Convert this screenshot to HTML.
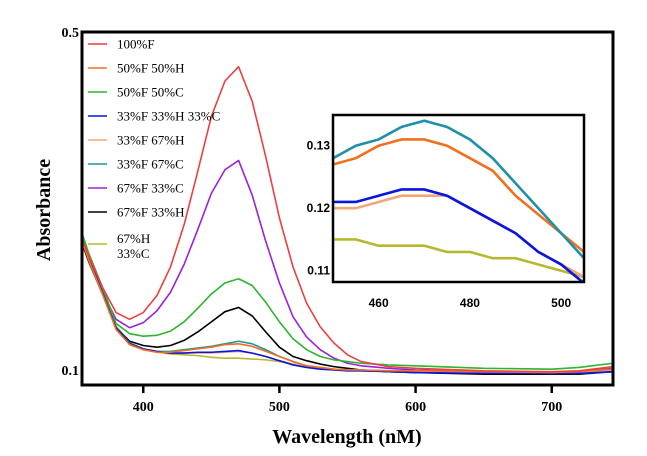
<!DOCTYPE html>
<html><head><meta charset="utf-8"><style>
body{margin:0;background:#fff;}
svg{display:block;}
.ser{font-family:"Liberation Serif",serif;}
</style></head><body>
<svg id="chart" width="647" height="456" viewBox="0 0 647 456" xmlns="http://www.w3.org/2000/svg"></svg>
<script>
const wl=[355,360,370,380,390,400,410,420,430,440,450,460,470,480,490,500,510,520,530,540,550,560,580,600,650,700,720,745];
const red=[.255,.235,.198,.168,.160,.168,.188,.222,.272,.335,.400,.442,.459,.418,.352,.280,.222,.179,.151,.132,.118,.110,.104,.102,.099,.098,.099,.104];
const purple=[.252,.230,.192,.160,.150,.156,.170,.192,.225,.266,.309,.337,.348,.307,.252,.203,.163,.139,.124,.114,.108,.105,.102,.100,.098,.097,.098,.102];
const green=[.262,.238,.198,.155,.143,.140,.141,.146,.157,.173,.190,.203,.208,.200,.180,.157,.137,.124,.116,.112,.110,.108,.106,.105,.102,.101,.103,.108];
const black=[.250,.228,.190,.150,.134,.129,.127,.129,.135,.145,.157,.169,.174,.164,.145,.127,.116,.111,.107,.104,.102,.100,.098,.097,.095,.095,.095,.098];
const teal=[.258,.233,.192,.150,.132,.125,.122,.122,.124,.126,.128,.131,.134,.131,.124,.116,.110,.105,.103,.101,.100,.100,.099,.098,.097,.096,.096,.098];
const orange=[.255,.230,.190,.148,.130,.124,.121,.121,.123,.125,.127,.130,.131,.128,.122,.116,.110,.105,.103,.101,.100,.100,.099,.099,.098,.097,.098,.101];
const blue=[.256,.232,.192,.150,.131,.125,.122,.120,.120,.121,.121,.122,.123,.120,.116,.111,.106,.103,.101,.100,.099,.099,.098,.097,.096,.096,.096,.098];
const tan=[.254,.230,.190,.149,.130,.124,.121,.120,.120,.120,.120,.121,.122,.120,.116,.111,.107,.104,.102,.101,.100,.100,.099,.098,.097,.097,.098,.100];
const yellow=[.262,.236,.195,.152,.132,.125,.121,.119,.118,.117,.115,.114,.114,.113,.112,.110,.107,.104,.102,.101,.100,.100,.099,.099,.098,.097,.098,.100];
const xTicks=[400,500,600,700];
const yTicks=[0.1,0.5];
const inWl=[450,455,460,465,470,475,480,485,490,495,500,505];
const inTeal=[.128,.130,.131,.133,.134,.133,.131,.128,.124,.120,.116,.112];
const inOrange=[.127,.128,.130,.131,.131,.130,.128,.126,.122,.119,.116,.113];
const inBlue=[.121,.121,.122,.123,.123,.122,.120,.118,.116,.113,.111,.108];
const inTan=[.120,.120,.121,.122,.122,.122,.120,.118,.116,.113,.111,.109];
const inYellow=[.115,.115,.114,.114,.114,.113,.113,.112,.112,.111,.110,.109];
const inXTicks=[460,480,500];
const inYTicks=[0.11,0.12,0.13];
const legendLabels=["100%F","50%F 50%H","50%F 50%C","33%F 33%H 33%C","33%F 67%H","33%F 67%C","67%F 33%C","67%F 33%H"];

const NS="http://www.w3.org/2000/svg";
const svg=document.getElementById('chart');
function mk(tag,attrs,parent){const e=document.createElementNS(NS,tag);for(const k in attrs)e.setAttribute(k,attrs[k]);(parent||svg).appendChild(e);return e;}
const X0=82,X1=613,Y0=32,Y1=385;
const xs=v=>X0+(v-355)/(745-355)*(X1-X0);
const ys=v=>370-(v-0.1)*845;
const IX0=333,IX1=584,IY0=115,IY1=282;
const ixs=v=>IX0+(v-450)/(505-450)*(IX1-IX0);
const iys=v=>145.7-(v-0.13)*6250;

const C={red:"#e8413f",orange:"#f07020",green:"#2db52d",blue:"#0a14e0",tan:"#f0a878",teal:"#1a9a9a",purple:"#9a22d8",black:"#000",yellow:"#b8b830"};

const series=[["red",red],["orange",orange],["green",green],["blue",blue],["tan",tan],["teal",teal],["purple",purple],["black",black],["yellow",yellow]];
const gS=mk('g',{});


series.slice().reverse().forEach(([n,arr])=>{
  const p=mk('polyline',{points:wl.map((w,i)=>xs(w)+','+ys(arr[i])).join(' '),fill:'none',stroke:C[n],'stroke-width':1.6,'stroke-linejoin':'round'},gS);
  
  
});
const fr=mk('rect',{x:X0,y:Y0,width:X1-X0,height:Y1-Y0,fill:'none',stroke:'#000','stroke-width':3});


xTicks.forEach(t=>{
  mk('line',{x1:xs(t),x2:xs(t),y1:Y1,y2:Y1+8,stroke:'#000','stroke-width':2.5});
  const tx=mk('text',{x:xs(t),y:Y1+26,'text-anchor':'middle','font-size':14,'font-weight':'bold',class:'ser'});
  tx.textContent=t;
  
  
});
yTicks.forEach(t=>{
  const ty=mk('text',{x:X0-3,y:ys(t)+5,'text-anchor':'end','font-size':14,'font-weight':'bold',class:'ser'});
  ty.textContent=t;
  
  
});
const xt=mk('text',{x:347,y:443,'text-anchor':'middle','font-size':20,'font-weight':'bold',class:'ser'});
xt.textContent='Wavelength (nM)';


const yt=mk('text',{x:0,y:0,transform:'translate(50,210) rotate(-90)','text-anchor':'middle','font-size':20,'font-weight':'bold',class:'ser'});
yt.textContent='Absorbance';


const gL=mk('g',{});


legendLabels.forEach((lab,i)=>{
  const y=44+i*24;
  mk('line',{x1:88,x2:107,y1:y,y2:y,stroke:C[series[i][0]],'stroke-width':1.6},gL);
  const t=mk('text',{x:117,y:y+4.5,'font-size':13,class:'ser'},gL);
  t.textContent=lab;
  
  
});
mk('line',{x1:88,x2:107,y1:244,y2:244,stroke:C.yellow,'stroke-width':1.6},gL);
const l1=mk('text',{x:117,y:243,'font-size':13,class:'ser'},gL);l1.textContent='67%H';


const l2=mk('text',{x:117,y:258,'font-size':13,class:'ser'},gL);l2.textContent='33%C';


const gI=mk('g',{});


mk('rect',{x:IX0,y:IY0,width:IX1-IX0,height:IY1-IY0,fill:'#fff'},gI);
const inSeries=[["yellow",inYellow,"#b8b830"],["tan",inTan,"#f0a878"],["blue",inBlue,"#0a14e0"],["orange",inOrange,"#f07020"],["teal",inTeal,"#2090a8"]];
const cp=mk('clipPath',{id:'ic'},gI);mk('rect',{x:IX0,y:IY0,width:IX1-IX0,height:IY1-IY0},cp);
inSeries.forEach(([n,arr,col])=>{
  const p=mk('polyline',{points:inWl.map((w,i)=>ixs(w)+','+iys(arr[i])).join(' '),fill:'none',stroke:col,'stroke-width':2.6,'clip-path':'url(#ic)'},gI);
  
  
});
mk('rect',{x:IX0,y:IY0,width:IX1-IX0,height:IY1-IY0,fill:'none',stroke:'#000','stroke-width':2.5},gI);
inXTicks.forEach(t=>{
  const tx=mk('text',{x:ixs(t),y:IY1+25,'text-anchor':'middle','font-size':12,'font-weight':'bold','font-family':'Liberation Sans, sans-serif'},gI);
  tx.textContent=t;
  
  
});
inYTicks.forEach(t=>{
  const ty=mk('text',{x:IX0-3,y:iys(t)+4,'text-anchor':'end','font-size':12,'font-weight':'bold','font-family':'Liberation Sans, sans-serif'},gI);
  ty.textContent=t.toFixed(2);
  
  
});
</script>
</body></html>
